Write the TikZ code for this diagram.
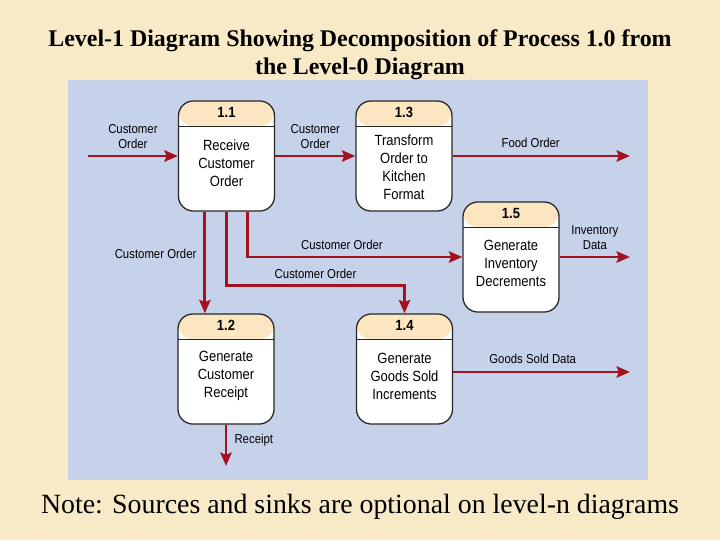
\documentclass[tikz,border=0pt]{standalone}
\usepackage{fontspec}
\setmainfont{Liberation Serif}
\newfontfamily\dfdfont[FakeStretch=0.88]{Liberation Sans}
\usetikzlibrary{arrows.meta,positioning}
\definecolor{parch}{HTML}{F8EAC6}
\definecolor{panel}{HTML}{C6D1EA}
\definecolor{hdr}{HTML}{FCE6C2}
\definecolor{flowred}{HTML}{A3121E}

\begin{document}
\begin{tikzpicture}[x=0.025cm,y=-0.025cm,
  every node/.style={font=\dfdfont},
  proc/.style={draw=black!85,line width=0.9pt,rounded corners=0.37cm,fill=white,
    minimum width=2.4cm,minimum height=2.75cm,
    path picture={
      \fill[hdr] (path picture bounding box.north west) rectangle ([yshift=-0.63cm]path picture bounding box.north east);
      \draw[black!85,line width=0.9pt] ([yshift=-0.63cm]path picture bounding box.north west) -- ([yshift=-0.63cm]path picture bounding box.north east);}},
  pnum/.style={font=\dfdfont\bfseries\fontsize{10.5}{12}\selectfont},
  ptext/.style={align=center,font=\dfdfont\fontsize{10.5}{12.8}\selectfont},
  lbl/.style={align=center,inner sep=1pt,font=\dfdfont\fontsize{9.2}{10.6}\selectfont},
  flow/.style={draw=flowred,line width=2.1pt,-{Stealth[length=9.5pt,width=8pt,inset=1.5pt]}}]
% background and panel
\fill[parch] (0,0) rectangle (720,540);
\fill[panel] (68,80) rectangle (648,480);
\node[font=\bfseries\fontsize{17}{20}\selectfont,align=center] (title) at (360,55)
  {Level-1 Diagram Showing Decomposition of Process 1.0 from\\the Level-0 Diagram};
\node[font=\fontsize{19.8}{22}\selectfont] (note) at (360,507)
  {Note: Sources and sinks are optional on level-n diagrams};

% processes
\node[proc] (p11) at (226.5,156) {};
\node[proc] (p13) at (404,156) {};
\node[proc] (p15) at (511,257) {};
\node[proc] (p12) at (226,369) {};
\node[proc] (p14) at (404.5,369) {};
\node[pnum] (n11) at ([yshift=-0.31cm]p11.north) {1.1};
\node[pnum] (n13) at ([yshift=-0.31cm]p13.north) {1.3};
\node[pnum] (n15) at ([yshift=-0.31cm]p15.north) {1.5};
\node[pnum] (n12) at ([yshift=-0.31cm]p12.north) {1.2};
\node[pnum] (n14) at ([yshift=-0.31cm]p14.north) {1.4};
\node[ptext] (t11) at ([yshift=-0.18cm]p11.center) {Receive\\Customer\\Order};
\node[ptext] (t13) at ([yshift=-0.28cm]p13.center) {Transform\\Order to\\Kitchen\\Format};
\node[ptext] (t15) at ([yshift=-0.16cm]p15.center) {Generate\\Inventory\\Decrements};
\node[ptext] (t12) at ([yshift=-0.18cm]p12.center) {Generate\\Customer\\Receipt};
\node[ptext] (t14) at ([yshift=-0.18cm]p14.center) {Generate\\Goods Sold\\Increments};

% free ends
\coordinate (cin) at (88,156);
\coordinate (food) at (630,156);
\coordinate (inv) at (630,257);
\coordinate (goods) at (630,372);
\coordinate (rcpt) at (226,466);

% flows
\draw[flow] (cin) -- node[lbl,above=3pt]{Customer\\Order} (p11.west);
\draw[flow] (p11.east) -- node[lbl,above=3pt]{Customer\\Order} (p13.west);
\draw[flow] (p13.east) -- node[lbl,above=4pt,pos=0.44]{Food Order} (food);
\draw[flow] ([xshift=-0.54cm]p11.south) -- node[lbl,left=4pt,pos=0.42]{Customer Order} ([xshift=-0.54cm]p11.south |- p12.north);
\draw[flow] (p11.south) -- ++(0,74) -| node[lbl,above=3pt,pos=0.25]{Customer Order} (p14.north);
\draw[flow] ([xshift=0.52cm]p11.south) |- node[lbl,above=3pt,pos=0.72]{Customer Order} (p15.west);
\draw[flow] (p15.east) -- node[lbl,above=3pt]{Inventory\\Data} (inv);
\draw[flow] (p14.east |- goods) -- node[lbl,above=4pt,pos=0.45]{Goods Sold Data} (goods);
\draw[flow] (p12.south) -- node[lbl,right=4pt,pos=0.38]{Receipt} (rcpt);
\end{tikzpicture}
\end{document}
